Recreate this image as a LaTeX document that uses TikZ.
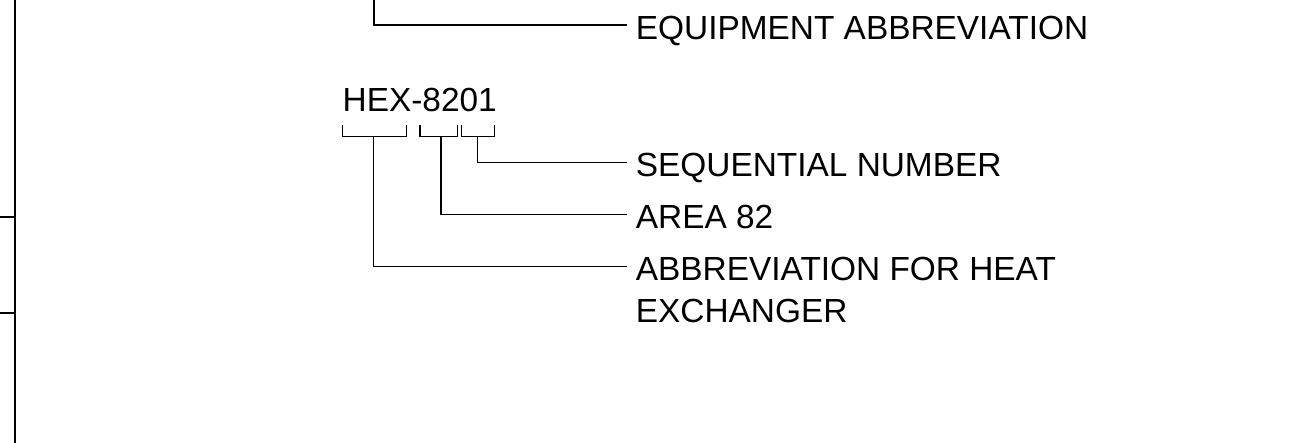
\documentclass[tikz,border=0pt]{standalone}
\usepackage{fontspec}
\setmainfont{Liberation Sans}
\usepackage{xcolor}
\usepackage{tikz}
\definecolor{noirtrait}{RGB}{0, 0, 0}
\definecolor{noirtexte}{RGB}{0, 0, 0}
\tikzset{
  libelle/.style={anchor=west, inner xsep=9pt, inner ysep=0pt,
    text height=28.2pt, text depth=0pt, text=noirtexte,
    font=\fontsize{33.4}{40}\selectfont},
  renvoi/.style={draw=noirtrait, line width=1.3pt},
  cadre/.style={draw=noirtrait, line width=2pt}
}
\begin{document}
\begin{tikzpicture}[x=1pt, y=-1pt]
  \useasboundingbox (0,0) rectangle (1305,443);

  % bord de la feuille
  \draw[cadre] (15,0) -- (15,443);
  \draw[cadre] (0,217.5) -- (15,217.5);
  \draw[cadre] (0,313.3) -- (15,313.3);

  % repere principal
  \coordinate (haut) at (374,0);
  \node[libelle] (equip) at (626.7,25) {EQUIPMENT ABBREVIATION};
  \draw[renvoi] (haut) |- (equip.west);

  % repere de l'echangeur
  \node[anchor=base west, inner sep=0pt, text=noirtexte,
        font=\fontsize{33.4}{40}\selectfont] (repere) at (342.5,111.7) {HEX-8201};

  \draw[renvoi] (342.7,125.5) |- (406.7,136.7) -- (406.7,125.5);
  \draw[renvoi] (420,125.5) |- (457.7,136.7) -- (457.7,125.5);
  \draw[renvoi] (461.7,125.5) |- (494.3,136.7) -- (494.3,125.5);
  \coordinate (crochetA) at (373.3,136.7);
  \coordinate (crochetB) at (441,136.7);
  \coordinate (crochetC) at (477.7,136.7);

  \node[libelle] (seq) at (626.7,162.7) {SEQUENTIAL NUMBER};
  \node[libelle] (zone) at (626.7,214.8) {AREA 82};
  \node[libelle] (abrev) at (626.7,266.2) {ABBREVIATION FOR HEAT};
  \node[libelle, anchor=base west] (suite) at ([yshift=-42.4pt]abrev.base west) {EXCHANGER};

  \draw[renvoi] (crochetC) |- (seq.west);
  \draw[renvoi] (crochetB) |- (zone.west);
  \draw[renvoi] (crochetA) |- (abrev.west);
\end{tikzpicture}
\end{document}
